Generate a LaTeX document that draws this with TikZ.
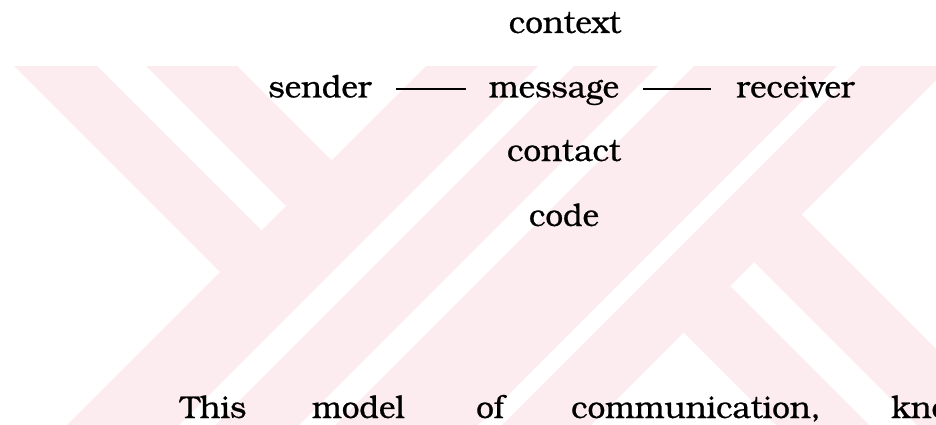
\documentclass[tikz,border=0pt]{standalone}
\usepackage{fontspec}
\setmainfont{TeX Gyre Bonum}
\newfontfamily\wordfont{TeX Gyre Bonum}[FakeBold=0.7]
\definecolor{wmpink}{RGB}{252,236,240}
\begin{document}
\begin{tikzpicture}[x=1pt,y=-1pt]
\tikzset{
  word/.style={inner sep=0pt, font=\wordfont\fontsize{31.5}{36}\selectfont, text=black},
  link/.style={line width=2pt, black},
  wmark/.style={fill=wmpink, draw=none}
}
\useasboundingbox (0,0) rectangle (936,425);
\fill[white] (0,0) rectangle (936,425);
% watermark
\begin{scope}
\clip (0,67) rectangle (936,425);
% left zone bands
\fill[wmark] (-52,0) -- (31,0) -- (261.5,230.5) -- (220,272) -- cycle;
\fill[wmark] (80,0) -- (171,0) -- (331.5,160.5) -- (286,206) -- cycle;
% middle zone bands
\fill[wmark] (492,0) -- (604,0) -- (104,500) -- (-8,500) -- cycle;
\fill[wmark] (640,0) -- (724,0) -- (224,500) -- (140,500) -- cycle;
\fill[wmark] (760,0) -- (903,0) -- (403,500) -- (260,500) -- cycle;
\fill[wmark] (927,0) -- (1016,0) -- (516,500) -- (427,500) -- cycle;
% right zone bands
\fill[wmark] (683.5,332.5) -- (730,286) -- (1044,600) -- (951,600) -- cycle;
\fill[wmark] (754,262) -- (801.5,214.5) -- (1187,600) -- (1092,600) -- cycle;
\end{scope}
% diagram
\node[word, anchor=base] (context) at (565,33) {context};
\node[word, anchor=base] (sender) at (320,97.5) {sender};
\node[word, anchor=base] (message) at (554,97.5) {message};
\node[word, anchor=base] (receiver) at (795.5,97.5) {receiver};
\node[word, anchor=base] (contact) at (564,161) {contact};
\node[word, anchor=base] (code) at (564,226) {code};
\draw[link, shorten <=24pt, shorten >=23pt] ([yshift=8pt]sender.base east) -- ([yshift=8pt]message.base west);
\draw[link, shorten <=24pt, shorten >=25pt] ([yshift=8pt]message.base east) -- ([yshift=8pt]receiver.base west);
% body text line
\begin{scope}
\clip (0,0) rectangle (936,425);
\node[word, anchor=base west] (this) at (180,418) {This};
\node[word, anchor=base west] (model) at (312,418) {model};
\node[word, anchor=base west] (of) at (476,418) {of};
\node[word, anchor=base west] (comm) at (571,418) {communication,};
\node[word, anchor=base west] (known) at (891,418) {kno};
\end{scope}
\end{tikzpicture}
\end{document}
